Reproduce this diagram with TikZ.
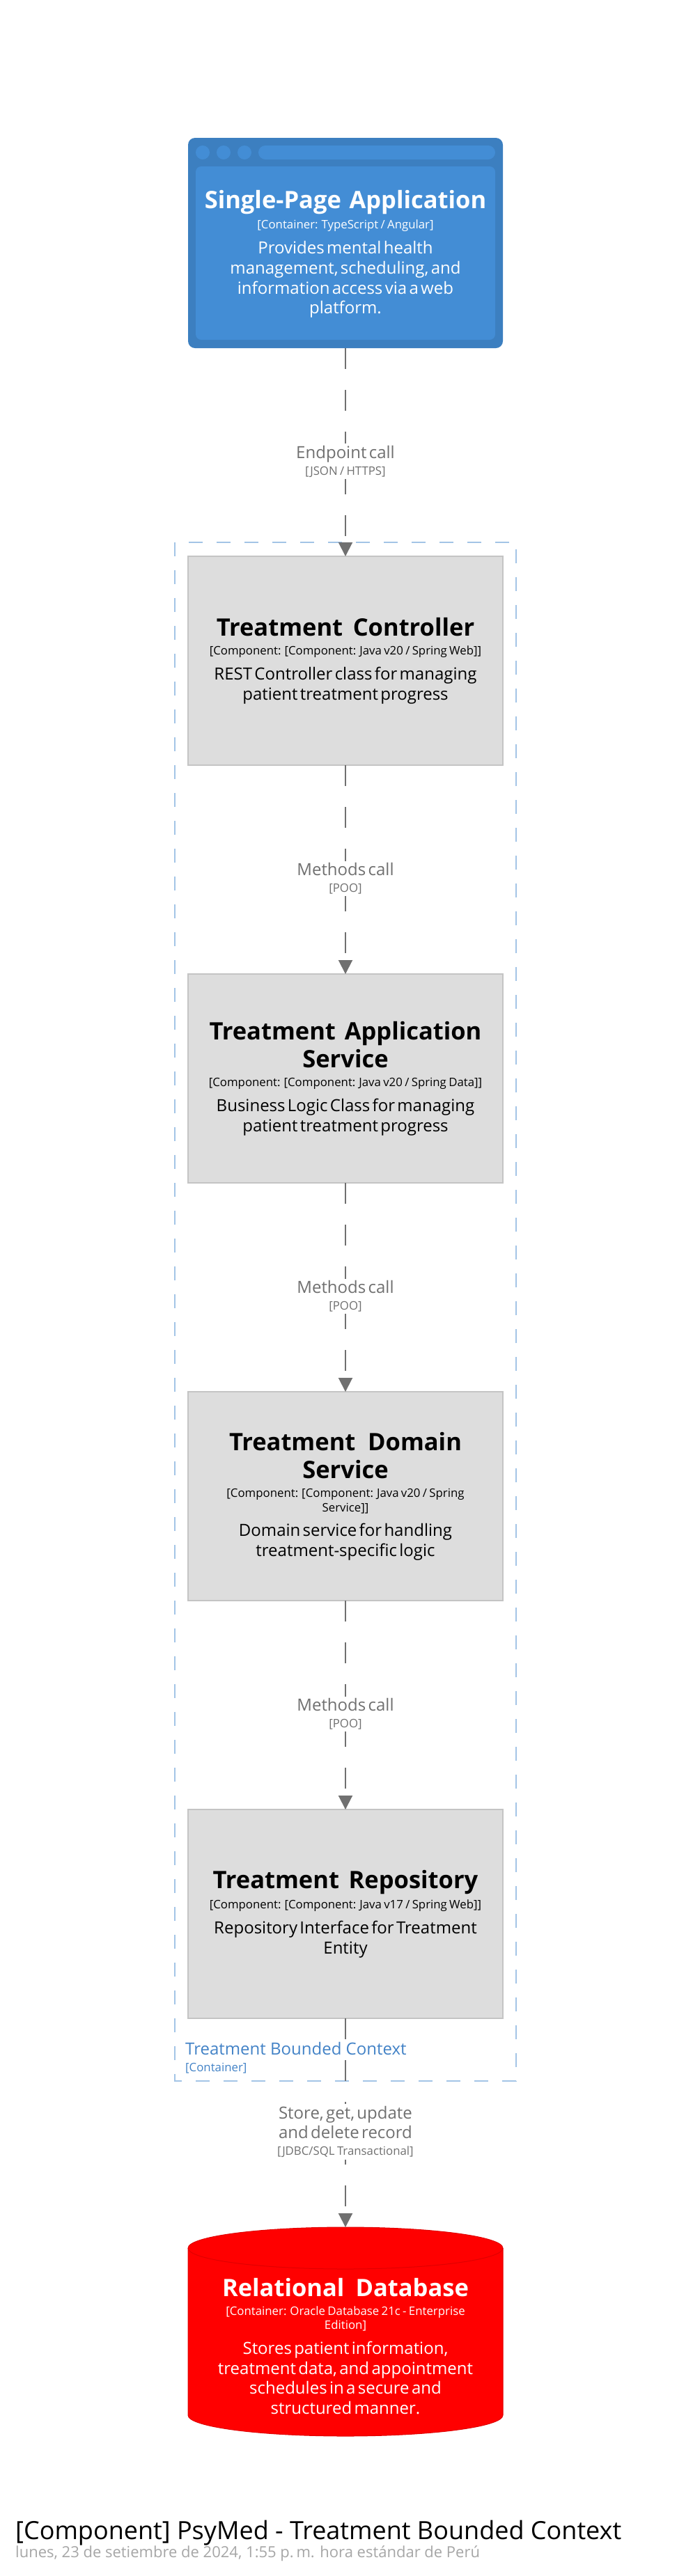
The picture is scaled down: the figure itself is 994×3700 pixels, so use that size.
\documentclass[tikz,border=0pt]{standalone}
\usepackage{fontspec}
\setmainfont{Open Sans}
\usetikzlibrary{positioning,arrows.meta}

\definecolor{spaouter}{HTML}{3C7FC0}
\definecolor{spainner}{HTML}{438DD5}
\definecolor{compfill}{HTML}{DDDDDD}
\definecolor{compline}{HTML}{C4C4C4}
\definecolor{dbfill}{HTML}{FF0000}
\definecolor{dbline}{HTML}{E00000}
\definecolor{relgrey}{HTML}{707070}
\definecolor{bndline}{HTML}{A3C4E6}
\definecolor{bndtext}{HTML}{4282C6}
\definecolor{dategrey}{HTML}{A6A6A6}

\lineskiplimit=-\maxdimen

% element texts: name, technology, description
\newcommand{\lbrk}{\par}
\newcommand{\elname}[1]{{\fontsize{34.5pt}{40.3pt}\selectfont\bfseries\spaceskip=0.3em plus 0.1em\relax #1\par}}
\newcommand{\eltech}[1]{\vspace{7.3pt}{\fontsize{16.8pt}{20.2pt}\selectfont #1\par}}
\newcommand{\eldesc}[1]{\vspace{6.7pt}{\fontsize{24pt}{28.8pt}\selectfont #1\par}}
% relationship texts
\newcommand{\reldesc}[1]{{\fontsize{24pt}{28.8pt}\selectfont #1\par}}
\newcommand{\reltech}[1]{{\fontsize{16.8pt}{24pt}\selectfont #1\par}}

\begin{document}
\begin{tikzpicture}[x=1pt,y=-1pt,
    comp/.style={draw=compline,fill=compfill,line width=2pt,minimum width=452pt,
                 minimum height=300pt,text width=420pt,align=center,inner sep=0pt,outer sep=0pt},
    spabox/.style={fill=spaouter,rounded corners=10pt,minimum width=452pt,
                   minimum height=302pt,inner sep=0pt,outer sep=0pt},
    dbbox/.style={minimum width=452pt,minimum height=300pt,inner sep=0pt,outer sep=0pt},
    boxtext/.style={text width=420pt,align=center,inner sep=0pt},
    rel/.style={draw=relgrey,line width=2pt,dash pattern=on 30pt off 30pt,
                -{Triangle[length=20pt,width=20pt]}},
    rellabel/.style={fill=white,text=relgrey,text width=260pt,align=center,inner sep=3pt},
    bnd/.style={draw=bndline,line width=2pt,dash pattern=on 20pt off 20pt}]

  \useasboundingbox (0,0) rectangle (994,3700);

  % single-page application (browser window)
  \node[spabox] (spa) at (496,349) {};
  \fill[spainner,rounded corners=8pt] ([xshift=11pt,yshift=-41pt]spa.north west)
    rectangle ([xshift=-11pt,yshift=12pt]spa.south east);
  \foreach \i in {0,1,2}
    \fill[spainner] ([xshift=21pt+30pt*\i,yshift=-21pt]spa.north west) circle (10pt);
  \fill[spainner,rounded corners=10pt] ([xshift=101pt,yshift=-11pt]spa.north west)
    rectangle ([xshift=-11pt,yshift=-31pt]spa.north east);
  \node[boxtext,text=white] (spatext) at (496,365)
    {\elname{Single-Page Application}
     \eltech{[Container: TypeScript / Angular]}
     \eldesc{Provides mental health\lbrk management, scheduling, and\lbrk
             information access via a web\lbrk platform.}};

  % boundary
  \draw[bnd] (251,779) rectangle (741,2989);
  \node[anchor=base west,inner sep=0pt,text=bndtext,font=\fontsize{24pt}{28pt}\selectfont]
    (bndname) at (266,2951) {Treatment Bounded Context};
  \node[anchor=base west,inner sep=0pt,text=bndtext,font=\fontsize{16.8pt}{20pt}\selectfont]
    (bndtype) at (266,2975) {[Container]};

  % components
  \node[comp] (ctrl) at (496,949)
    {\elname{Treatment Controller}
     \eltech{[Component: [Component: Java v20 / Spring Web]]}
     \eldesc{REST Controller class for managing\lbrk patient treatment progress}};
  \node[comp,below=300pt of ctrl] (appsvc)
    {\elname{Treatment Application\lbrk Service}
     \eltech{[Component: [Component: Java v20 / Spring Data]]}
     \eldesc{Business Logic Class for managing\lbrk patient treatment progress}};
  \node[comp,below=300pt of appsvc] (domsvc)
    {\elname{Treatment Domain\lbrk Service}
     \eltech{[Component: [Component: Java v20 / Spring\lbrk Service]]}
     \eldesc{Domain service for handling\lbrk treatment-specific logic}};
  \node[comp,below=300pt of domsvc] (repo)
    {\elname{Treatment Repository}
     \eltech{[Component: [Component: Java v17 / Spring Web]]}
     \eldesc{Repository Interface for Treatment\lbrk Entity}};

  % database (cylinder)
  \node[dbbox,below=300pt of repo] (db) {};
  \filldraw[fill=dbfill,draw=dbline,line width=1pt]
    ([yshift=-30pt]db.north west) -- ([yshift=30pt]db.south west)
    arc[start angle=180,end angle=360,x radius=226pt,y radius=30pt]
    -- ([yshift=-30pt]db.north east)
    arc[start angle=0,end angle=180,x radius=226pt,y radius=30pt] -- cycle;
  \draw[dbline,line width=1pt] ([yshift=-30pt]db.north west)
    arc[start angle=180,end angle=360,x radius=226pt,y radius=30pt];
  \node[boxtext,text=white] (dbtext) at ([yshift=-21pt]db.center)
    {\elname{Relational Database}
     \eltech{[Container: Oracle Database 21c - Enterprise\lbrk Edition]}
     \eldesc{Stores patient information,\lbrk treatment data, and appointment\lbrk
             schedules in a secure and\lbrk structured manner.}};

  % relationships
  \draw[rel] (spa) -- node[rellabel,midway,yshift=-13pt] (rel1)
    {\reldesc{Endpoint call}\reltech{[JSON / HTTPS]}} (ctrl);
  \draw[rel] (ctrl) -- node[rellabel,midway,yshift=-13pt] (rel2)
    {\reldesc{Methods call}\reltech{[POO]}} (appsvc);
  \draw[rel] (appsvc) -- node[rellabel,midway,yshift=-13pt] (rel3)
    {\reldesc{Methods call}\reltech{[POO]}} (domsvc);
  \draw[rel] (domsvc) -- node[rellabel,midway,yshift=-13pt] (rel4)
    {\reldesc{Methods call}\reltech{[POO]}} (repo);
  \draw[rel] (repo) -- node[rellabel,midway,yshift=-13pt] (rel5)
    {\reldesc{Store, get, update\lbrk and delete record}\reltech{[JDBC/SQL Transactional]}} (db);

  % diagram title
  \node[anchor=base west,inner sep=0pt,font=\fontsize{36pt}{40pt}\selectfont]
    (title) at (22,3647) {[Component] PsyMed - Treatment Bounded Context};
  \node[anchor=base west,inner sep=0pt,text=dategrey,font=\fontsize{22pt}{26pt}\selectfont]
    (date) at (22,3673) {lunes, 23 de setiembre de 2024, 1:55 p.\,m. hora estándar de Perú};
\end{tikzpicture}
\end{document}
